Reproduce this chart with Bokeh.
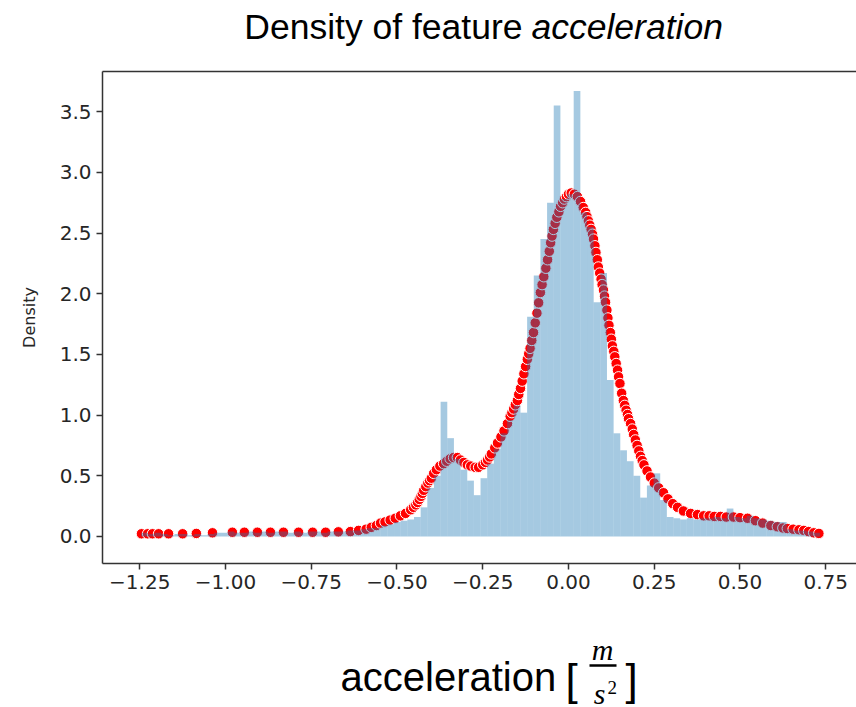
from bokeh.plotting import figure
from bokeh.layouts import column
from bokeh.models import Range1d, FixedTicker, CustomJSTickFormatter, LinearAxis
from bokeh.core.properties import value
from bokeh.embed import file_html
from bokeh.resources import INLINE

# ---------------- data ----------------
x_ticks = [-1.25, -1.0, -0.75, -0.5, -0.25, 0.0, 0.25, 0.5, 0.75]
x_tick_labels = ["\u22121.25", "\u22121.00", "\u22120.75", "\u22120.50", "\u22120.25",
                 "0.00", "0.25", "0.50", "0.75"]
y_ticks = [0.0, 0.5, 1.0, 1.5, 2.0, 2.5, 3.0, 3.5]
y_tick_labels = ["0.0", "0.5", "1.0", "1.5", "2.0", "2.5", "3.0", "3.5"]

bin_start = -1.2458
bin_width = 0.0194
hist_density = [
    0.03, 0.02, 0.03, 0.02, 0.01, 0.02, 0.02, 0.01, 0.02, 0.01,
    0.02, 0.03, 0.03, 0.04, 0.03, 0.03, 0.04, 0.03, 0.04, 0.03,
    0.04, 0.04, 0.03, 0.04, 0.03, 0.04, 0.04, 0.03, 0.04, 0.04,
    0.04, 0.05, 0.05, 0.06, 0.07, 0.07, 0.09, 0.10, 0.12, 0.13,
    0.14, 0.16, 0.24, 0.40, 0.50, 1.11, 0.81, 0.64, 0.55, 0.46,
    0.34, 0.48, 0.60, 0.72, 0.85, 0.96, 1.08, 1.02, 1.81, 2.15,
    2.45, 2.75, 3.55, 2.78, 2.82, 3.67, 2.67, 2.55, 1.93, 2.17,
    1.29, 0.85, 0.71, 0.62, 0.50, 0.32, 0.42, 0.52, 0.30, 0.16,
    0.15, 0.14, 0.15, 0.14, 0.15, 0.15, 0.16, 0.15, 0.23, 0.16,
    0.15, 0.17, 0.15, 0.14, 0.13, 0.12, 0.12, 0.06, 0.05, 0.05,
    0.04, 0.03,
]

kde_x = [
    -1.245, -1.227, -1.213, -1.195, -1.166, -1.125, -1.085, -1.038, -0.980, -0.945,
    -0.907, -0.869, -0.831, -0.787, -0.746, -0.708, -0.671, -0.636, -0.612,
    -0.590, -0.575, -0.560, -0.548, -0.535, -0.520, -0.505, -0.490, -0.475, -0.460,
    -0.452, -0.445, -0.440, -0.435, -0.430, -0.426, -0.422, -0.416, -0.410, -0.405,
    -0.400, -0.393, -0.385, -0.375, -0.364, -0.355, -0.345, -0.335, -0.324, -0.315,
    -0.305, -0.295, -0.285, -0.272, -0.262, -0.250, -0.242, -0.236, -0.230, -0.225,
    -0.215, -0.207, -0.197, -0.188, -0.178, -0.170, -0.165, -0.160, -0.155, -0.149,
    -0.145, -0.140, -0.135, -0.130, -0.125, -0.120, -0.116, -0.112, -0.107, -0.102,
    -0.097, -0.092, -0.087, -0.082, -0.077, -0.072, -0.066, -0.061, -0.056, -0.052,
    -0.048, -0.044, -0.039, -0.034, -0.028, -0.023, -0.017, -0.012, -0.006, 0.000,
    0.008, 0.017, 0.026, 0.035, 0.043, 0.050, 0.054, 0.058, 0.062, 0.066,
    0.070, 0.073, 0.077, 0.080, 0.084, 0.087, 0.091, 0.095, 0.098, 0.102,
    0.105, 0.108, 0.112, 0.115, 0.118, 0.122, 0.125, 0.128, 0.132, 0.135,
    0.139, 0.143, 0.146, 0.150, 0.155, 0.160, 0.164, 0.168, 0.172, 0.175,
    0.181, 0.186, 0.190, 0.195, 0.200, 0.205, 0.210, 0.215, 0.220, 0.229,
    0.239, 0.250, 0.263, 0.277, 0.290, 0.304, 0.318, 0.335, 0.356, 0.376,
    0.394, 0.410, 0.425, 0.443, 0.460, 0.481, 0.500, 0.522, 0.545, 0.566,
    0.590, 0.609, 0.625, 0.638, 0.655, 0.672, 0.686, 0.700, 0.715, 0.730,
]
kde_y = [
    0.022, 0.022, 0.022, 0.022, 0.022, 0.022, 0.025, 0.030, 0.035, 0.035,
    0.035, 0.035, 0.035, 0.035, 0.035, 0.035, 0.038, 0.040, 0.050,
    0.060, 0.075, 0.090, 0.110, 0.120, 0.135, 0.150, 0.170, 0.190, 0.220,
    0.240, 0.260, 0.280, 0.305, 0.330, 0.355, 0.380, 0.410, 0.440, 0.460,
    0.480, 0.520, 0.550, 0.580, 0.600, 0.620, 0.640, 0.650, 0.650, 0.630,
    0.610, 0.590, 0.580, 0.570, 0.570, 0.590, 0.610, 0.630, 0.655, 0.680,
    0.730, 0.770, 0.820, 0.870, 0.930, 0.990, 1.020, 1.050, 1.085, 1.120,
    1.170, 1.220, 1.280, 1.340, 1.400, 1.460, 1.505, 1.550, 1.615, 1.680,
    1.760, 1.840, 1.925, 2.010, 2.075, 2.140, 2.210, 2.280, 2.350, 2.420,
    2.475, 2.530, 2.580, 2.630, 2.675, 2.720, 2.750, 2.780, 2.800, 2.820,
    2.830, 2.820, 2.800, 2.760, 2.710, 2.670, 2.635, 2.600, 2.565, 2.530,
    2.490, 2.450, 2.395, 2.340, 2.280, 2.220, 2.170, 2.120, 2.075, 2.030,
    1.980, 1.930, 1.865, 1.800, 1.740, 1.680, 1.625, 1.570, 1.525, 1.480,
    1.425, 1.370, 1.315, 1.260, 1.180, 1.120, 1.080, 1.040, 1.005, 0.970,
    0.930, 0.885, 0.840, 0.795, 0.750, 0.705, 0.660, 0.625, 0.590, 0.540,
    0.490, 0.440, 0.400, 0.360, 0.310, 0.270, 0.240, 0.210, 0.190, 0.180,
    0.170, 0.170, 0.165, 0.165, 0.160, 0.160, 0.155, 0.150, 0.130, 0.110,
    0.090, 0.080, 0.070, 0.065, 0.060, 0.055, 0.050, 0.040, 0.030, 0.025,
]

title_plain = "Density of feature"
title_italic = "acceleration"
y_label = "Density"
x_label_word = "acceleration"

# ---------------- layout ----------------
W = 856
FL, FR = 102, 856          # plot frame left / right (page pixels)
TEXT = "#262626"

# title strip: its frame is aligned with the main frame, data coords ~ page pixels
t = figure(width=W, height=48, x_range=Range1d(FL, FR), y_range=Range1d(48, 0),
           x_axis_location=None, y_axis_location=None, output_backend="svg",
           toolbar_location=None, min_border=0, title=None)
t.grid.visible = False
t.outline_line_color = None
t.text(x=[522], y=[26], text=[title_plain], text_font=value("Liberation Sans"),
       text_font_size="35.5px", text_align="right", text_baseline="alphabetic", text_color="black")
t.text(x=[531], y=[26], text=[title_italic], text_font=value("Liberation Sans"),
       text_font_style="italic", text_font_size="35.5px", text_align="left",
       text_baseline="alphabetic", text_color="black")

# main plot
p = figure(width=W, height=557, x_range=Range1d(-1.3586, 0.8397), y_range=Range1d(-0.2228, 3.831),
           output_backend="svg", toolbar_location=None,
           min_border_left=FL, min_border_right=0, min_border_top=23, min_border_bottom=42)
p.grid.visible = False
p.outline_line_color = None

p.scatter(kde_x, kde_y, size=10.5, fill_color="#ff0000", line_color="white", line_width=1)
edges = [round(bin_start + i * bin_width, 5) for i in range(len(hist_density) + 1)]
p.quad(left=edges[:-1], right=edges[1:], bottom=0, top=hist_density,
       fill_color="#1f77b4", fill_alpha=0.4, line_color=None)

FMT_CODE = ("const i = tv.findIndex(v => Math.abs(v - tick) < 1e-9); "
            "return i >= 0 ? lbl[i] : '';")
xfmt = CustomJSTickFormatter(args=dict(tv=x_ticks, lbl=x_tick_labels), code=FMT_CODE)
yfmt = CustomJSTickFormatter(args=dict(tv=y_ticks, lbl=y_tick_labels), code=FMT_CODE)

for ax, tk, fm in ((p.xaxis[0], x_ticks, xfmt), (p.yaxis[0], y_ticks, yfmt)):
    ax.ticker = FixedTicker(ticks=tk)
    ax.formatter = fm
    ax.minor_tick_line_color = None
    ax.major_tick_out = 6
    ax.major_tick_in = 0
    ax.major_tick_line_color = "#333333"
    ax.major_tick_line_width = 1.5
    ax.axis_line_color = "#333333"
    ax.axis_line_width = 1.5
    ax.major_label_text_font = "DejaVu Sans"
    ax.major_label_text_font_size = "20px"
    ax.major_label_text_color = TEXT
    ax.major_label_standoff = 5

p.yaxis[0].axis_label = y_label
p.yaxis[0].axis_label_text_font = "DejaVu Sans"
p.yaxis[0].axis_label_text_font_size = "16px"
p.yaxis[0].axis_label_text_font_style = "normal"
p.yaxis[0].axis_label_text_color = TEXT
p.yaxis[0].axis_label_standoff = 18

top_axis = LinearAxis(ticker=FixedTicker(ticks=[]), axis_line_color="#333333", axis_line_width=1.5,
                      major_tick_line_color=None, minor_tick_line_color=None,
                      major_label_text_font_size="0px")
p.add_layout(top_axis, "above")

# x label strip: frame aligned with main frame, data coords ~ page pixels
b = figure(width=W, height=102, x_range=Range1d(FL, FR), y_range=Range1d(707, 605),
           x_axis_location=None, y_axis_location=None, output_backend="svg",
           toolbar_location=None, min_border=0, title=None)
b.grid.visible = False
b.outline_line_color = None
b.text(x=[340], y=[676], text=[x_label_word], text_font=value("Liberation Sans"),
       text_font_size="40px", text_align="left", text_baseline="alphabetic", text_color="black")
b.text(x=[571, 631], y=[679, 679], text=["[", "]"], text_font=value("Liberation Sans"),
       text_font_size="44px", text_align="center", text_baseline="alphabetic", text_color="black")
b.text(x=[602], y=[649], text=["m"], text_font=value("Liberation Serif"), text_font_style="italic",
       text_font_size="30px", text_align="center", text_baseline="alphabetic", text_color="black")
b.segment(x0=[589], y0=[665], x1=[616], y1=[665], line_color="black", line_width=2.5)
b.text(x=[599], y=[693], text=["s"], text_font=value("Liberation Serif"), text_font_style="italic",
       text_font_size="30px", text_align="center", text_baseline="alphabetic", text_color="black")
b.text(x=[607], y=[687], text=["2"], text_font=value("Liberation Serif"),
       text_font_size="19px", text_align="left", text_baseline="alphabetic", text_color="black")

layout = column(t, p, b, spacing=0)
with open("out.html", "w", encoding="utf-8") as f:
    f.write(file_html(layout, INLINE))
